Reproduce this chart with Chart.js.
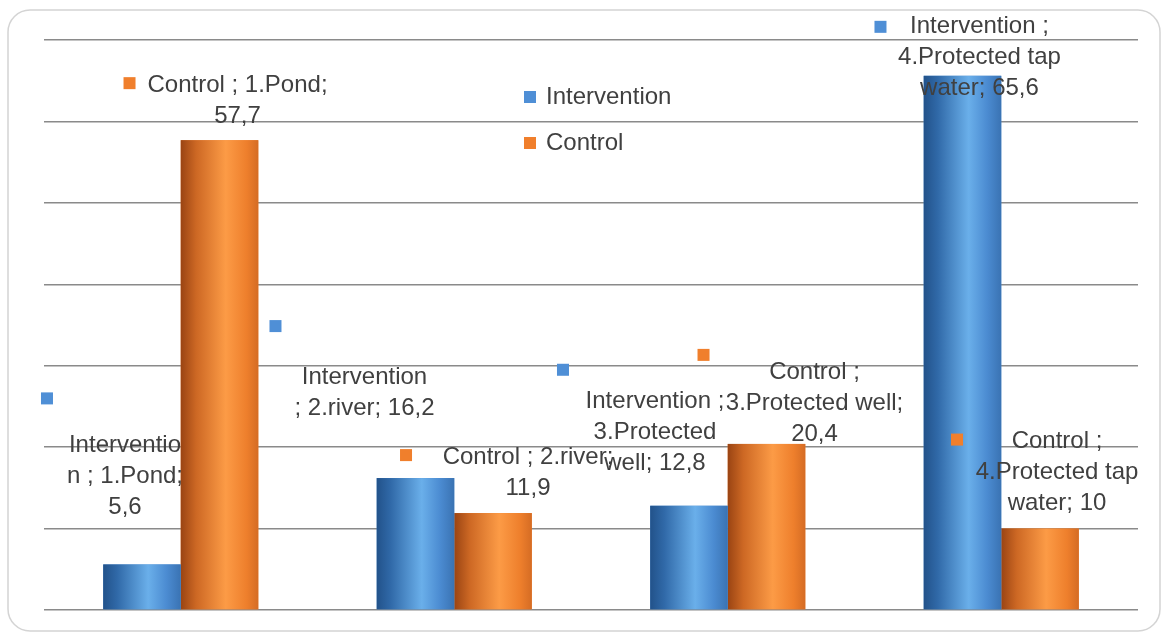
<!DOCTYPE html>
<html>
<head>
<meta charset="utf-8">
<title>Water source – Intervention vs Control</title>
<script src="https://cdn.jsdelivr.net/npm/chart.js@4.4.1/dist/chart.umd.min.js"></script>
<style>
  html, body { margin: 0; padding: 0; background: #fff; }
  #wrap { width: 1167px; height: 635px; position: relative; }
</style>
</head>
<body>
<div id="wrap"><canvas id="chart"></canvas></div>
<script>
// ─── DATA ──────────────────────────────────────────────
const categories = ['1.Pond', '2.river', '3.Protected well', '4.Protected tap water'];
const seriesNames = ['Intervention', 'Control'];
const intervention = [5.6, 16.2, 12.8, 65.6];
const control = [57.7, 11.9, 20.4, 10];
const yMax = 70;
const yStep = 10;

// ─── LABEL LAYOUT (offsets from bar top, line breaks) ──
// dx/dy = centre of first text line, kx/ky = legend key centre
const labelLayout = [
  [ // Intervention
    { dx: -17, dy: -119, kx: -95, ky: -166, breaks: [11, 22] },
    { dx: -51, dy: -101, kx: -140, ky: -152, breaks: [12] },
    { dx: -34, dy: -104, kx: -126, ky: -136, breaks: [14, 26] },
    { dx: 17, dy: -49, kx: -82, ky: -49, breaks: [14, 30] }
  ],
  [ // Control
    { dx: 18, dy: -55, kx: -90, ky: -57, breaks: [17] },
    { dx: 35, dy: -56, kx: -87, ky: -58, breaks: [18] },
    { dx: 48, dy: -72, kx: -63, ky: -89, breaks: [9, 27] },
    { dx: 17, dy: -87, kx: -83, ky: -89, breaks: [9, 25] }
  ]
];

const FONT = '24px "Liberation Sans", Arial, sans-serif';
const TEXT_COLOR = '#404040';
const LINE_H = 31;
const KEY = 12;

// cylinder-like shading per series
const shades = [
  [[0, '#22528a'], [0.18, '#3069a8'], [0.58, '#6aafea'], [0.82, '#4b8bd1'], [1, '#3a73b3']],
  [[0, '#9a4413'], [0.2, '#cd6824'], [0.58, '#fc9b46'], [0.85, '#ee7f2c'], [1, '#d56c24']]
];

const fmt = v => String(v).replace('.', ',');

const splitAt = (text, idx) => {
  const out = [];
  let start = 0;
  idx.forEach(i => { out.push(text.slice(start, i).trim()); start = i; });
  out.push(text.slice(start).trim());
  return out.filter(s => s.length);
};

// ─── PLUGINS ───────────────────────────────────────────
const frame = {
  id: 'frame',
  beforeDraw(chart) {
    const { ctx } = chart;
    const x = 8, y = 10, w = 1152, h = 621, r = 22;
    ctx.save();
    ctx.fillStyle = '#fff';
    ctx.fillRect(0, 0, chart.width, chart.height);
    ctx.beginPath();
    ctx.moveTo(x + r, y);
    ctx.arcTo(x + w, y, x + w, y + h, r);
    ctx.arcTo(x + w, y + h, x, y + h, r);
    ctx.arcTo(x, y + h, x, y, r);
    ctx.arcTo(x, y, x + w, y, r);
    ctx.closePath();
    ctx.strokeStyle = '#d4d4d4';
    ctx.lineWidth = 1.5;
    ctx.stroke();
    ctx.restore();
  }
};

const cylinder = {
  id: 'cylinder',
  afterDatasetDraw(chart, args) {
    const { ctx } = chart;
    const stops = shades[args.index];
    ctx.save();
    args.meta.data.forEach(bar => {
      const { x, y, base, width } = bar.getProps(['x', 'y', 'base', 'width'], true);
      const l = x - width / 2;
      const g = ctx.createLinearGradient(l, 0, l + width, 0);
      stops.forEach(([p, c]) => g.addColorStop(p, c));
      ctx.fillStyle = g;
      ctx.fillRect(l, y, width, base - y);
    });
    ctx.restore();
  }
};

const pointLabels = {
  id: 'pointLabels',
  afterDatasetsDraw(chart) {
    const { ctx } = chart;
    ctx.save();
    ctx.font = FONT;
    ctx.textAlign = 'center';
    ctx.textBaseline = 'middle';
    chart.data.datasets.forEach((ds, di) => {
      const meta = chart.getDatasetMeta(di);
      meta.data.forEach((bar, i) => {
        const lay = labelLayout[di][i];
        const { x, y } = bar.getProps(['x', 'y'], true);
        const text = `${ds.label} ; ${categories[i]}; ${fmt(ds.data[i])}`;
        const lines = splitAt(text, lay.breaks);
        ctx.fillStyle = ds.borderColor;
        ctx.fillRect(x + lay.kx - KEY / 2, y + lay.ky - KEY / 2, KEY, KEY);
        ctx.fillStyle = TEXT_COLOR;
        lines.forEach((ln, k) => {
          ctx.fillText(ln, x + lay.dx, y + lay.dy + k * LINE_H);
        });
      });
    });
    ctx.restore();
  }
};

const floatLegend = {
  id: 'floatLegend',
  afterDraw(chart, args, opts) {
    const { ctx } = chart;
    ctx.save();
    ctx.font = FONT;
    ctx.textAlign = 'left';
    ctx.textBaseline = 'middle';
    chart.data.datasets.forEach((ds, i) => {
      const ky = opts.y + i * opts.gap;
      ctx.fillStyle = ds.borderColor;
      ctx.fillRect(opts.x - KEY / 2, ky - KEY / 2, KEY, KEY);
      ctx.fillStyle = TEXT_COLOR;
      ctx.fillText(ds.label, opts.x + 16, ky);
    });
    ctx.restore();
  }
};

// ─── CHART ─────────────────────────────────────────────
new Chart(document.getElementById('chart'), {
  type: 'bar',
  data: {
    labels: categories,
    datasets: [
      {
        label: seriesNames[0],
        data: intervention,
        backgroundColor: '#4a8ad0',
        borderColor: '#4f8fd6',
        borderWidth: 0
      },
      {
        label: seriesNames[1],
        data: control,
        backgroundColor: '#f08030',
        borderColor: '#f07f2c',
        borderWidth: 0
      }
    ]
  },
  options: {
    responsive: true,
    maintainAspectRatio: false,
    animation: false,
    layout: { padding: { left: 44, right: 29, top: 40, bottom: 25 } },
    datasets: { bar: { categoryPercentage: 0.567, barPercentage: 1 } },
    plugins: {
      legend: { display: false },
      tooltip: { enabled: false },
      floatLegend: { x: 530, y: 97, gap: 46 }
    },
    scales: {
      x: { display: false },
      y: {
        min: 0,
        max: yMax,
        ticks: { display: false, stepSize: yStep },
        border: { display: false },
        grid: { color: '#8a8a8a', lineWidth: 1.4, drawTicks: false }
      }
    }
  },
  plugins: [frame, cylinder, pointLabels, floatLegend]
});
</script>
</body>
</html>
